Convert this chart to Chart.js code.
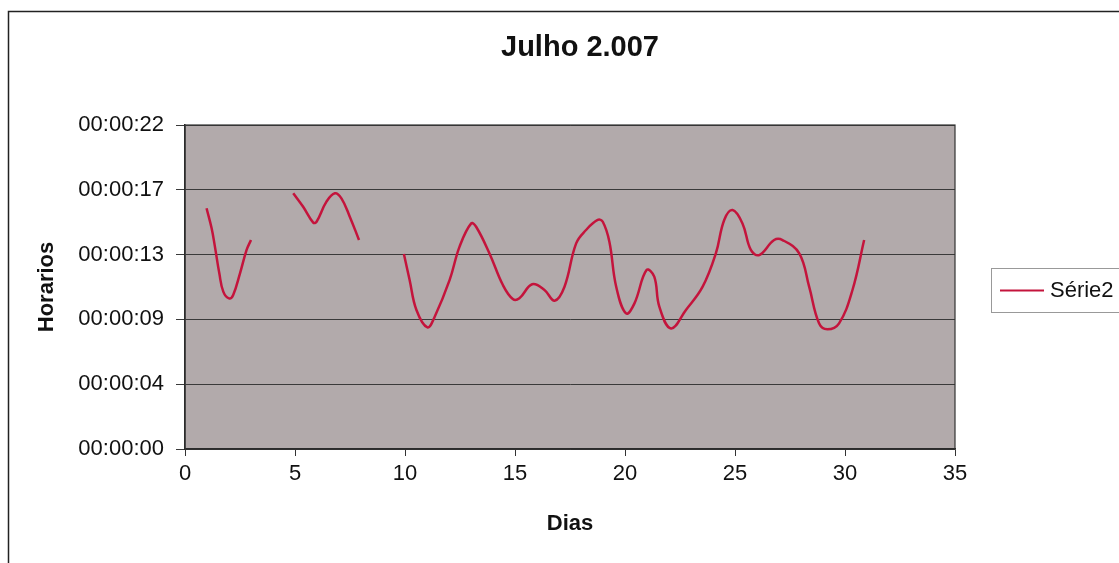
<!DOCTYPE html>
<html>
<head>
<meta charset="utf-8">
<script src="https://cdn.jsdelivr.net/npm/chart.js@4/dist/chart.umd.min.js"></script>
<style>
  html, body { margin: 0; padding: 0; background: #fff; }
  #wrap { width: 1119px; height: 563px; position: relative; }
</style>
</head>
<body>
<div id="wrap"><canvas id="chart"></canvas></div>
<script>
// Julho 2.007 — horario por dia (segundos), null = sem medicao
const dias = [
  0.98, 1.21, 1.36, 1.56, 1.74, 2.0, 2.19, 2.5, 2.8, 3.0,
  4,
  4.92, 5.37, 5.83, 5.98, 6.43, 6.81, 7.11, 7.49, 7.91,
  9,
  9.95, 10.21, 10.52, 11.02, 11.35, 12.03, 12.48, 13.01, 13.24, 13.84,
  14.45, 14.9, 15.2, 15.78, 16.34, 16.8, 17.25, 17.78, 18.23, 18.76,
  18.99, 19.29, 19.6, 20.05, 20.43, 20.98, 21.33, 21.56, 22.09, 22.77,
  23.53, 24.13, 24.51, 24.89, 25.34, 25.72, 26.1, 26.78, 27.16, 27.92,
  28.37, 28.82, 29.2, 29.73, 30.34, 30.87
];
const horarios = [
  16.05, 14.71, 13.49, 11.71, 10.49, 10.04, 10.27, 11.71, 13.27, 13.93,
  null,
  17.05, 16.15, 15.09, 15.15, 16.49, 17.05, 16.71, 15.49, 13.93,
  null,
  13.0, 11.27, 9.27, 8.11, 8.82, 11.27, 13.49, 15.04, 14.8, 13.04,
  10.93, 10.0, 10.05, 10.98, 10.6, 9.89, 10.82, 13.71, 14.6, 15.27,
  15.15, 13.82, 10.82, 9.04, 9.71, 11.93, 11.49, 9.49, 8.04, 9.27,
  10.82, 13.04, 15.27, 15.93, 15.04, 13.27, 12.93, 13.93, 13.93, 13.04,
  10.82, 8.38, 7.98, 8.38, 10.6, 13.93
];
const yTicks = [0, 4.32, 8.64, 12.96, 17.28, 21.6];   // 0.00005 dia
const xTicks = [0, 5, 10, 15, 20, 25, 30, 35];

const FONT = "'Liberation Sans', Arial, Helvetica, sans-serif";
const LINE_COLOR = '#c4143c';

function fmtTime(sec) {
  const s = Math.round(sec);
  const hh = String(Math.floor(s / 3600)).padStart(2, '0');
  const mm = String(Math.floor((s % 3600) / 60)).padStart(2, '0');
  const ss = String(s % 60).padStart(2, '0');
  return `${hh}:${mm}:${ss}`;
}

// plot area fill, frame, title and legend box in the Excel style
const excelFrame = {
  id: 'excelFrame',
  beforeDraw(chart) {
    const { ctx, chartArea: a } = chart;
    ctx.save();
    ctx.fillStyle = '#fff';
    ctx.fillRect(0, 0, chart.width, chart.height);
    ctx.strokeStyle = '#222';
    ctx.lineWidth = 1.5;
    ctx.strokeRect(8.5, 11.5, chart.width + 20, chart.height + 20);
    ctx.fillStyle = '#b2aaab';
    ctx.fillRect(a.left, a.top, a.right - a.left, a.bottom - a.top);
    ctx.restore();
  },
  afterDatasetsDraw(chart) {
    const { ctx, chartArea: a } = chart;
    ctx.save();
    ctx.strokeStyle = '#333';
    ctx.lineWidth = 1.2;
    ctx.strokeRect(a.left, a.top, a.right - a.left, a.bottom - a.top);
    ctx.restore();
  },
  afterDraw(chart) {
    const { ctx } = chart;
    ctx.save();
    ctx.fillStyle = '#111';
    ctx.font = `bold 29px ${FONT}`;
    ctx.textAlign = 'center';
    ctx.textBaseline = 'alphabetic';
    ctx.fillText('Julho 2.007', 580, 56);

    // legend
    const ds = chart.data.datasets[0];
    ctx.strokeStyle = '#999';
    ctx.lineWidth = 1;
    ctx.strokeRect(991.5, 268.5, 200, 44);
    ctx.strokeStyle = ds.borderColor;
    ctx.lineWidth = 2;
    ctx.beginPath();
    ctx.moveTo(1000, 290.5);
    ctx.lineTo(1044, 290.5);
    ctx.stroke();
    ctx.fillStyle = '#111';
    ctx.font = `22px ${FONT}`;
    ctx.textAlign = 'left';
    ctx.textBaseline = 'middle';
    ctx.fillText(ds.label, 1050, 291);
    ctx.restore();
  }
};

new Chart(document.getElementById('chart'), {
  type: 'line',
  data: {
    datasets: [{
      label: 'Série2',
      data: dias.map((d, i) => ({ x: d, y: horarios[i] })),
      borderColor: LINE_COLOR,
      borderWidth: 2.5,
      pointRadius: 0,
      tension: 0.4,
      spanGaps: false,
      fill: false,
    }],
  },
  options: {
    responsive: true,
    maintainAspectRatio: false,
    animation: false,
    layout: { padding: { left: 0, top: 125, right: 164, bottom: 0 } },
    plugins: {
      legend: { display: false },
      title: { display: false },
      tooltip: { enabled: false },
    },
    scales: {
      x: {
        type: 'linear',
        min: 0,
        max: 35,
        afterBuildTicks: s => { s.ticks = xTicks.map(v => ({ value: v })); },
        afterFit: s => { s.height = 114; },
        grid: { drawOnChartArea: false, drawTicks: true, tickLength: 7, color: '#333' },
        border: { display: true, color: '#222', width: 1.5 },
        ticks: { color: '#111', font: { family: FONT, size: 22 }, padding: 5, maxRotation: 0 },
        title: {
          display: true, text: 'Dias', color: '#111',
          font: { family: FONT, size: 22, weight: 'bold' },
          padding: { top: 0, bottom: 26 },
        },
      },
      y: {
        min: 0,
        max: 21.6,
        afterBuildTicks: s => { s.ticks = yTicks.map(v => ({ value: v })); },
        afterFit: s => { s.width = 185; },
        grid: { color: '#3a3a3a', lineWidth: 1, tickLength: 9 },
        border: { display: true, color: '#222', width: 1.5 },
        ticks: {
          color: '#111', font: { family: FONT, size: 22 }, padding: 12,
          callback: v => fmtTime(v),
        },
        title: {
          display: true, text: 'Horarios', color: '#111',
          font: { family: FONT, size: 22, weight: 'bold' },
          padding: { top: 34, bottom: 0 },
        },
      },
    },
  },
  plugins: [excelFrame],
});
</script>
</body>
</html>
